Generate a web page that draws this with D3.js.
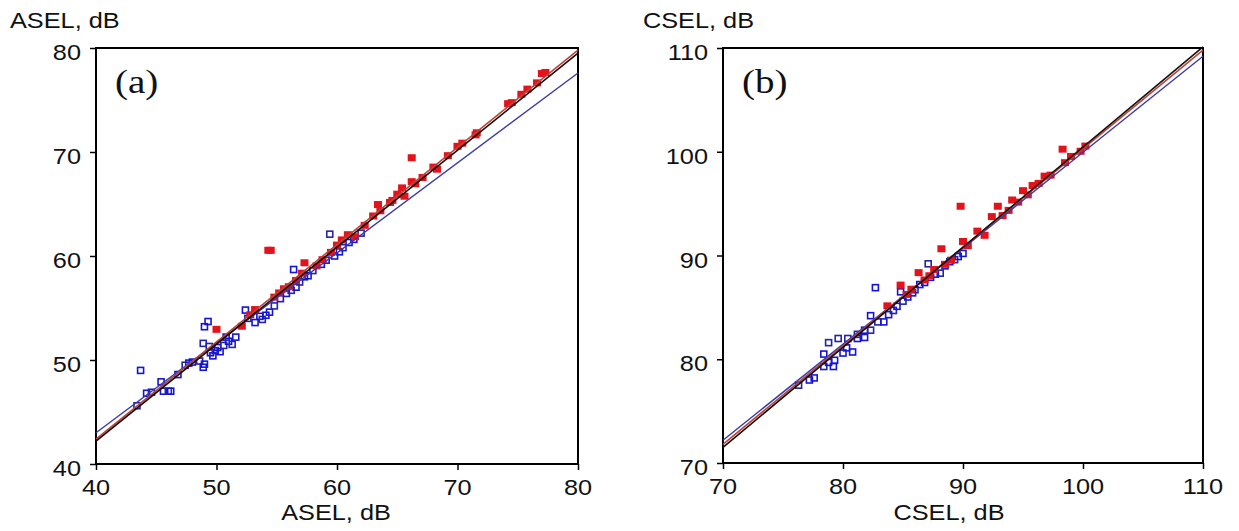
<!DOCTYPE html>
<html>
<head>
<meta charset="utf-8">
<title>ASEL / CSEL comparison</title>
<style>
    body { margin: 0; background: #fff; }
    svg { display: block; }
</style>
</head>
<body>
<script src="https://d3js.org/d3.v7.min.js"></script>
<script>
// ---- panel (a): ASEL ----
var aselTicks = [40, 50, 60, 70, 80];
var aselBlue = [
    [43.4,45.6],[43.7,49.0],[44.2,46.8],[44.6,46.9],[45.4,47.9],[45.6,47.0],[46.0,47.0],[46.2,47.0],
    [46.8,48.6],[47.4,49.5],[47.7,49.7],[48.0,49.8],[48.6,49.9],[48.9,49.3],[49.0,49.6],[48.9,51.6],
    [49.0,53.2],[49.3,53.7],[49.4,51.3],[49.5,50.7],[49.7,50.4],[49.9,50.9],[50.1,51.2],[50.3,50.8],
    [50.6,51.4],[50.8,52.2],[51.0,51.8],[51.3,51.5],[51.6,52.2],[52.4,54.8],[52.6,54.0],[53.2,53.6],
    [53.6,54.2],[53.8,53.9],[54.1,54.3],[54.4,54.6],[54.8,55.2],[55.3,55.9],[55.8,56.4],[56.2,56.7],
    [56.4,58.7],[56.6,57.0],[56.9,57.5],[57.3,58.0],[57.6,58.1],[58.0,58.6],[58.7,59.2],[59.1,59.6],
    [59.4,62.1],[59.8,60.0],[60.2,60.4],[60.5,60.8],[61.0,61.3],[61.4,61.6],[62.0,62.2]
];
var aselRed = [
    [50.0,52.9],[52.1,53.2],[52.8,54.3],[53.2,54.8],[54.3,60.5],[54.5,60.5],[54.8,56.0],[55.2,56.4],
    [55.6,56.8],[56.0,57.0],[56.6,57.6],[57.1,58.3],[57.3,59.3],[58.3,59.0],[58.8,59.6],[59.5,60.3],
    [60.0,61.0],[60.4,61.5],[60.9,62.0],[61.5,61.8],[62.3,62.9],[63.0,63.8],[63.4,64.9],[63.6,64.3],
    [64.4,65.1],[64.6,65.3],[65.0,65.9],[65.4,66.5],[65.6,65.7],[66.2,67.1],[66.2,69.4],[66.5,66.9],
    [67.1,67.5],[68.0,68.5],[68.3,68.3],[69.2,69.6],[70.0,70.5],[70.4,70.8],[71.6,71.8],[71.5,71.6],
    [74.2,74.6],[74.5,74.7],[75.3,75.5],[75.8,76.0],[76.6,76.6],[77.0,77.5],[77.3,77.6]
];
var aselFitBlue  = [[40, 43.0], [80, 77.6]];
var aselFitRed   = [[40, 42.4], [80, 79.8]];
var aselFitBlack = [[40, 42.2], [80, 79.5]];

// ---- panel (b): CSEL ----
var cselTicks = [70, 80, 90, 100, 110];
var cselBlue = [
    [76.3,77.5],[77.2,78.0],[77.6,78.2],[78.4,79.3],[78.8,79.7],[78.4,80.5],[78.8,81.6],[79.2,79.3],
    [79.3,79.9],[79.6,82.0],[80.0,80.6],[80.3,81.1],[80.4,82.0],[80.8,80.7],[81.2,82.0],[81.2,82.4],
    [81.8,82.1],[81.8,82.8],[82.3,82.8],[82.3,84.2],[82.7,86.9],[82.9,83.6],[83.4,83.6],[83.8,84.3],
    [84.2,84.7],[84.5,85.1],[84.8,86.5],[85.0,85.6],[85.4,86.0],[85.8,86.4],[86.0,86.7],[86.4,87.2],
    [86.8,87.4],[87.1,89.2],[87.3,87.9],[87.7,88.2],[88.1,88.3],[88.5,89.0],[88.9,89.4],[89.3,89.6],
    [89.6,89.9],[90.0,90.2]
];
var cselRed = [
    [83.7,85.1],[84.8,87.1],[85.3,86.2],[85.7,86.7],[86.3,88.3],[86.8,87.6],[87.2,88.0],[87.6,88.6],
    [88.2,90.6],[88.5,89.1],[89.0,89.5],[89.8,94.7],[90.0,91.3],[90.4,90.9],[91.2,92.3],[91.8,91.9],
    [92.4,93.7],[92.9,94.7],[93.3,93.8],[93.8,94.3],[94.1,95.3],[94.6,95.1],[95.0,96.2],[95.4,95.8],
    [95.8,96.7],[96.3,96.9],[96.8,97.6],[97.3,97.7],[98.3,100.2],[98.5,98.9],[99.0,99.5],[99.8,100.0],
    [100.2,100.5]
];
var cselFitBlue  = [[70, 72.2], [110, 109.2]];
var cselFitRed   = [[70, 71.8], [110, 109.8]];
var cselFitBlack = [[70, 71.5], [110, 110.1]];

var sans  = "Liberation Sans, Arial, sans-serif",
    serif = "Liberation Serif, Times New Roman, serif";

var svg = d3.select("body")
    .append("svg")
    .attr("width", 1239)
    .attr("height", 531);

// text drawn slightly wide, like the source figure
function label(x, y, str, anchor, size, family) {
    svg.append("text")
        .attr("transform", "translate(" + x + "," + y + ") scale(1.15,1)")
        .attr("text-anchor", anchor)
        .style("font-family", family)
        .style("font-size", size + "px")
        .style("fill", "#111")
        .text(str);
}

function drawPanel(p) {
    var x = d3.scaleLinear().domain(p.domain).range([p.left, p.right]);
    var y = d3.scaleLinear().domain(p.domain).range([p.bottom, p.top]);

    // frame
    svg.append("rect")
        .attr("x", p.left).attr("y", p.top)
        .attr("width", p.right - p.left).attr("height", p.bottom - p.top)
        .style("fill", "none").style("stroke", "#000").style("stroke-width", 2);

    // tick marks only, labels done by hand
    svg.append("g")
        .attr("transform", "translate(" + p.left + ",0)")
        .call(d3.axisLeft(y).tickValues(p.ticks).tickSize(6).tickFormat(""))
        .call(function(g){ g.select(".domain").remove(); })
        .selectAll("line").style("stroke", "#000").style("stroke-width", 1.5);
    svg.append("g")
        .attr("transform", "translate(0," + p.bottom + ")")
        .call(d3.axisBottom(x).tickValues(p.ticks).tickSize(6).tickFormat(""))
        .call(function(g){ g.select(".domain").remove(); })
        .selectAll("line").style("stroke", "#000").style("stroke-width", 1.5);

    p.ticks.forEach(function(t){
        label(p.left - 15, y(t) + 12, t, "end", 22, sans);
        label(x(t), p.bottom + 31, t, "middle", 22, sans);
    });

    label(p.yTitleX, 28, p.title, "start", 22, sans);
    label(p.xTitleX, 520, p.title, "middle", 22, sans);
    label(p.left + 19, 93, p.tag, "start", 34, serif);

    // open blue squares
    svg.append("g").selectAll("rect")
        .data(p.blue).enter()
        .append("rect")
        .attr("x", function(d){ return x(d[0]) - 3; })
        .attr("y", function(d){ return y(d[1]) - 3; })
        .attr("width", 6).attr("height", 6)
        .style("fill", "none")
        .style("stroke", function(d, i){ return i % 3 == 0 ? "#2424a8" : "#1414d8"; })
        .style("stroke-width", 1.6);

    // filled red squares
    svg.append("g").selectAll("rect")
        .data(p.red).enter()
        .append("rect")
        .attr("x", function(d){ return x(d[0]) - 4; })
        .attr("y", function(d){ return y(d[1]) - 4; })
        .attr("width", 8).attr("height", 7)
        .style("fill", "#e4121a");

    var line = d3.line()
        .x(function(d){ return x(d[0]); })
        .y(function(d){ return y(d[1]); });

    [[p.fitBlue, "#3a3aa8", 1.4], [p.fitRed, "#b8453a", 1.6], [p.fitBlack, "#1a0c0c", 1.6]]
        .forEach(function(f){
            svg.append("path")
                .datum(f[0])
                .attr("d", line)
                .style("fill", "none")
                .style("stroke", f[1])
                .style("stroke-width", f[2]);
        });
}

drawPanel({
    domain: [40, 80], ticks: aselTicks,
    left: 96, right: 578, top: 48, bottom: 464,
    blue: aselBlue, red: aselRed,
    fitBlue: aselFitBlue, fitRed: aselFitRed, fitBlack: aselFitBlack,
    title: "ASEL, dB", tag: "(a)", yTitleX: 10, xTitleX: 336
});

drawPanel({
    domain: [70, 110], ticks: cselTicks,
    left: 723, right: 1203, top: 48, bottom: 463,
    blue: cselBlue, red: cselRed,
    fitBlue: cselFitBlue, fitRed: cselFitRed, fitBlack: cselFitBlack,
    title: "CSEL, dB", tag: "(b)", yTitleX: 643, xTitleX: 949
});
</script>
</body>
</html>
